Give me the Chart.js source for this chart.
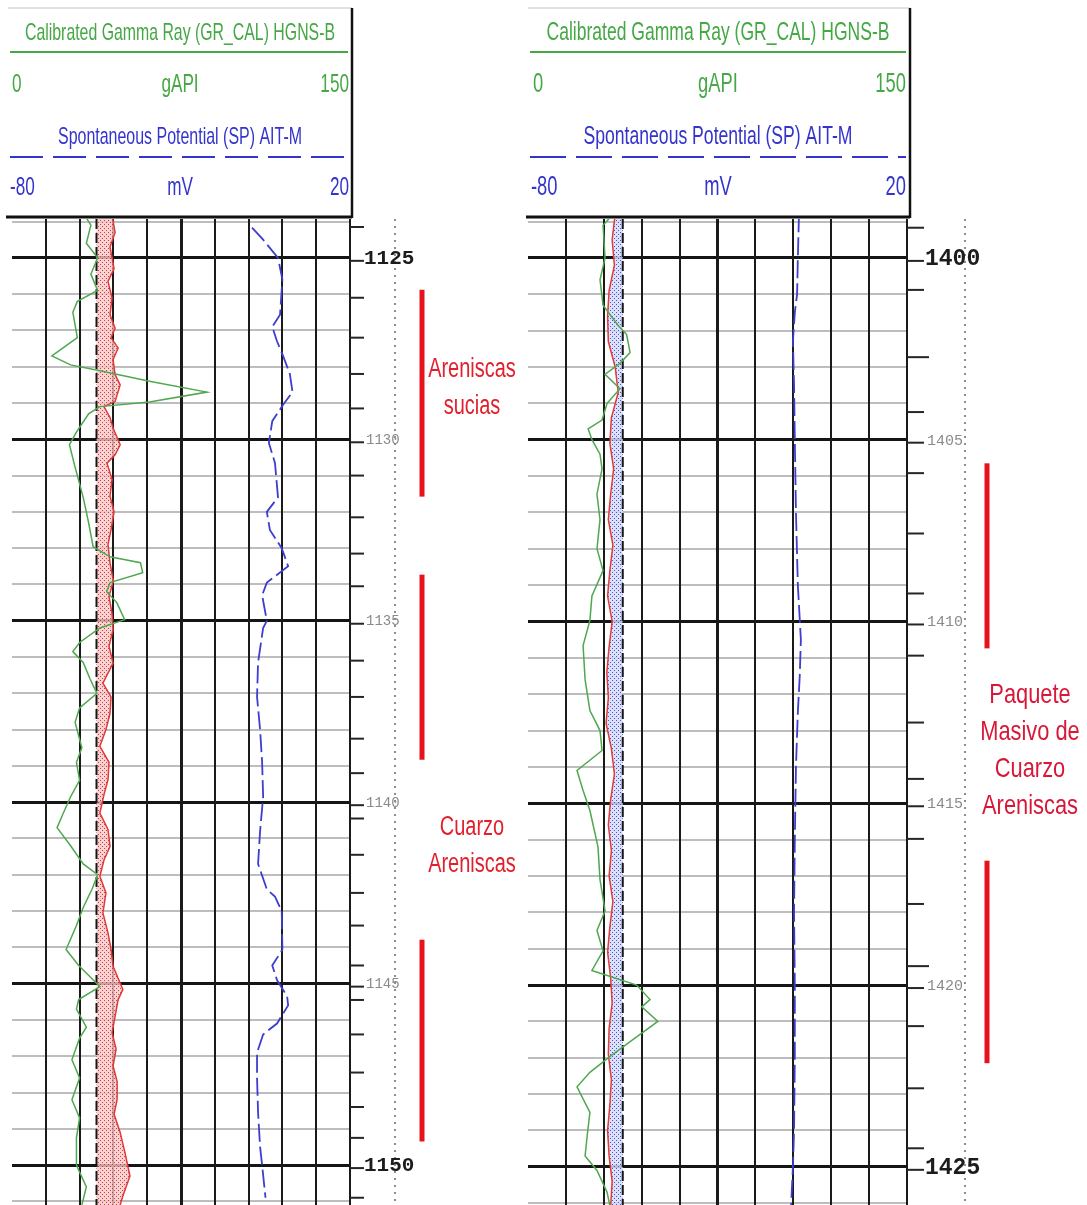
<!DOCTYPE html>
<html>
<head>
<meta charset="utf-8">
<script src="https://cdn.jsdelivr.net/npm/chart.js@4.4.0/dist/chart.umd.min.js"></script>
<style>
  html, body { margin: 0; padding: 0; background: #fff; }
  #wrap { position: relative; width: 1087px; height: 1205px; overflow: hidden; background: #fff; }
  canvas { position: absolute; top: 0; }
</style>
</head>
<body>
<div id="wrap">
  <canvas id="logLeft" width="520" height="1205" style="left:0"></canvas>
  <canvas id="logRight" width="567" height="1205" style="left:520px"></canvas>
</div>
<script>
// ---------- data ----------
const grTitle = 'Calibrated Gamma Ray (GR_CAL) HGNS-B';
const spTitle = 'Spontaneous Potential (SP) AIT-M';
const grScaleLabels = ['0', 'gAPI', '150'];
const spScaleLabels = ['-80', 'mV', '20'];
const grRange = [0, 150];
const spRange = [-80, 20];
const calRange = [6, 16];
const bitSize = 8.5;

// left log (1124 - 1151 m)
const leftDepthRange = [1123.93, 1151.1];
const leftDepthLabels = [1125, 1130, 1135, 1140, 1145, 1150];
const leftBigLabels = [1125, 1150];
const leftTickDepths = [1124.15, 1126.1, 1127.2, 1128.2, 1129.15, 1131.0, 1132.15, 1133.15, 1134.05, 1136.1,
  1137.1, 1138.25, 1139.2, 1140.45, 1141.45, 1142.5, 1143.4, 1144.5, 1145.45, 1146.4, 1147.45, 1148.4, 1149.25, 1150.9];

const leftGrDepth = [1123.8, 1124.1, 1124.6, 1125.0, 1125.45, 1125.9, 1126.2, 1126.5, 1127.2, 1127.7,
  1127.95, 1128.1, 1128.4, 1128.7, 1128.97, 1129.1, 1129.3, 1129.8, 1130.15, 1130.65,
  1131.6, 1132.3, 1132.96, 1133.24, 1133.4, 1133.68, 1133.95, 1134.2, 1134.5, 1134.97,
  1135.2, 1135.6, 1135.85, 1136.15, 1136.6, 1137.0, 1137.4, 1137.8, 1138.5, 1138.9,
  1139.4, 1139.85, 1140.3, 1140.7, 1141.2, 1141.7, 1142.0, 1142.4, 1142.9, 1143.4,
  1144.06, 1144.5, 1145.08, 1145.44, 1145.7, 1146.2, 1146.5, 1147.1, 1147.6, 1148.2,
  1148.7, 1149.25, 1150.0, 1150.6, 1151.1];
const leftGr = [32, 35, 33, 38, 35, 38, 29, 27, 29, 17.7,
  26, 38, 61, 86.5, 61, 39, 34, 28.6, 25.5, 27.5,
  31.6, 34, 36, 43.5, 57, 58, 43.5, 42, 46.5, 50,
  39, 30, 27, 31.6, 34.6, 37.7, 30, 28, 31, 28.6,
  30, 26, 22.8, 20, 26, 31.6, 38, 35.5, 31.6, 28.6,
  24, 29.6, 39, 29.6, 28.6, 33, 30, 26.6, 30, 26.6,
  30, 28.6, 28.6, 33, 31];

const leftSpDepth = [1124.17, 1124.5, 1125.0, 1125.6, 1126.57, 1126.9, 1127.3, 1127.7, 1128.2, 1128.7,
  1129.05, 1129.5, 1130.1, 1130.65, 1131.6, 1132.0, 1132.5, 1133.0, 1133.5, 1133.95,
  1134.3, 1135.0, 1135.2, 1136.15, 1137.1, 1138.0, 1138.9, 1139.85, 1140.8, 1141.7,
  1142.4, 1142.6, 1143.0, 1144.06, 1144.5, 1144.9, 1145.35, 1145.6, 1146.1, 1146.4,
  1146.9, 1147.6, 1148.55, 1149.5, 1150.0, 1150.9];
const leftSp = [-9, -5.7, -1.3, 0, -0.7, -3, -1.6, 0.2, 2.2, 3,
  0.2, -3, -4, -2.2, -1.3, -4.6, -3.7, -0.2, 1.7, -4.6,
  -6, -4.6, -5.7, -7.2, -7.5, -6.6, -6, -5.7, -6.6, -7.2,
  -4.6, -2.2, -0.2, 0, -3, -1.6, 1.4, 1.7, -1.6, -5.7,
  -7.5, -7.5, -7.2, -6.6, -6, -5];

const leftCalDepth = [1123.82, 1124.3, 1124.7, 1125.0, 1125.3, 1125.65, 1126.1, 1126.57, 1126.94, 1127.2,
  1127.49, 1127.8, 1128.22, 1128.5, 1128.96, 1129.1, 1129.4, 1129.69, 1130.15, 1130.43,
  1130.66, 1131.1, 1131.57, 1132.0, 1132.49, 1132.9, 1133.41, 1133.9, 1134.33, 1134.8,
  1135.25, 1135.7, 1136.17, 1136.72, 1137.1, 1137.55, 1138.0, 1138.46, 1138.9, 1139.38,
  1139.8, 1140.3, 1140.75, 1141.22, 1141.6, 1142.04, 1142.5, 1143.05, 1143.6, 1144.05,
  1144.52, 1145.16, 1145.44, 1145.9, 1146.35, 1146.8, 1147.27, 1147.7, 1148.19, 1148.6,
  1149.1, 1149.65, 1150.3, 1150.85, 1151.1];
const leftCal = [8.96, 9.05, 8.90, 8.96, 9.02, 8.84, 8.96, 8.90, 9.05, 8.93,
  9.14, 8.99, 9.05, 9.20, 9.05, 8.72, 8.90, 8.99, 9.20, 9.05,
  8.81, 8.96, 8.90, 9.02, 8.93, 8.84, 8.90, 9.00, 8.87, 8.96,
  8.99, 8.87, 8.99, 8.69, 8.93, 8.90, 8.78, 8.60, 8.87, 8.84,
  8.72, 8.60, 8.84, 8.90, 8.72, 8.60, 8.78, 8.69, 8.84, 8.93,
  8.99, 9.28, 9.14, 9.05, 8.96, 9.08, 8.99, 9.11, 9.11, 9.02,
  9.20, 9.34, 9.49, 9.28, 9.20];

const leftZones = [[1125.88, 1131.58], [1133.73, 1138.83], [1143.79, 1149.35]];
const leftNotes = [
  { depth: 1128.6, lines: ['Areniscas', 'sucias'] },
  { depth: 1141.2, lines: ['Cuarzo', 'Areniscas'] }
];

// right log (1399 - 1426 m)
const rightDepthRange = [1398.93, 1426.05];
const rightDepthLabels = [1400, 1405, 1410, 1415, 1420, 1425];
const rightBigLabels = [1400, 1425];
const rightTickDepths = [1399.17, 1400.88, 1402.73, 1404.24, 1405.92, 1407.58, 1409.23, 1410.94,
  1412.78, 1414.33, 1415.98, 1417.77, 1419.48, 1421.13, 1422.84, 1424.49];

const rightGrDepth = [1398.8, 1399.1, 1400.0, 1400.6, 1401.3, 1401.85, 1402.1, 1402.6, 1402.9, 1403.2,
  1403.6, 1404.0, 1404.46, 1404.7, 1405.0, 1405.4, 1405.8, 1406.5, 1407.2, 1408.0,
  1408.6, 1409.3, 1409.97, 1410.66, 1411.6, 1412.45, 1413.0, 1413.55, 1414.1, 1414.65,
  1415.2, 1416.2, 1417.1, 1417.96, 1418.5, 1419.06, 1419.6, 1420.0, 1420.4, 1420.6,
  1421.0, 1421.5, 1421.96, 1422.4, 1422.8, 1423.5, 1424.16, 1424.7, 1425.1, 1425.7, 1426.1];
const rightGr = [33.7, 29.7, 30.5, 28.5, 29.7, 35.6, 39, 40.4, 36.4, 30.5,
  36.4, 31.3, 29.3, 23.8, 25.3, 28.5, 29.3, 27.3, 28.5, 27.3,
  29.7, 25.3, 24.5, 21.8, 22.6, 24.5, 28.5, 29.3, 19.4, 21.8,
  24.5, 27.7, 28.5, 30.5, 27.3, 29.7, 25.3, 43, 48.3, 45,
  51.4, 41.5, 32.5, 24.5, 19.4, 24.5, 23.4, 22.6, 27.3, 31.3, 32.5];

const rightSpDepth = [1398.8, 1400.0, 1401.0, 1401.5, 1402.3, 1403.5, 1405.0, 1407.0, 1409.0, 1410.5,
  1411.5, 1412.5, 1414.0, 1416.0, 1418.0, 1420.0, 1422.0, 1424.0, 1425.0, 1426.1];
const rightSp = [-8.5, -8.8, -9.0, -9.6, -10.1, -9.8, -9.6, -9.3, -8.8, -8.0,
  -8.3, -8.8, -9.3, -9.6, -9.8, -9.6, -9.6, -9.8, -10.1, -10.6];

const rightCalDepth = [1398.8, 1399.5, 1400.2, 1400.9, 1401.6, 1402.3, 1403.0, 1403.7, 1404.4, 1405.1,
  1405.8, 1406.5, 1407.2, 1407.9, 1408.6, 1409.3, 1410.0, 1410.7, 1411.4, 1412.1,
  1412.8, 1413.5, 1414.2, 1414.9, 1415.6, 1416.3, 1417.0, 1417.7, 1418.4, 1419.1,
  1419.8, 1420.5, 1421.2, 1421.9, 1422.6, 1423.3, 1424.0, 1424.7, 1425.4, 1426.1];
const rightCal = [8.30, 8.22, 8.28, 8.14, 8.10, 8.12, 8.30, 8.38, 8.20, 8.16,
  8.26, 8.18, 8.12, 8.24, 8.16, 8.10, 8.22, 8.14, 8.08, 8.12,
  8.06, 8.20, 8.28, 8.18, 8.12, 8.20, 8.14, 8.24, 8.16, 8.10,
  8.18, 8.22, 8.14, 8.12, 8.20, 8.16, 8.10, 8.14, 8.22, 8.18];

const rightZones = [[1405.65, 1410.74], [1416.58, 1422.15]];
const rightNotes = [
  { depth: 1413.56, lines: ['Paquete', 'Masivo de', 'Cuarzo', 'Areniscas'] }
];

// ---------- styling ----------
const GREEN_TXT = '#45a845';
const BLUE_TXT = '#3434cc';
const NOTE_RED = '#e21f2c';
const SANS = '"Liberation Sans", Arial, sans-serif';
const MONO = '"Liberation Mono", "Courier New", monospace';

function dotPattern(bg, dot) {
  const c = document.createElement('canvas');
  c.width = 4; c.height = 4;
  const g = c.getContext('2d');
  g.fillStyle = bg; g.fillRect(0, 0, 4, 4);
  g.fillStyle = dot;
  g.fillRect(0, 0, 1, 1); g.fillRect(2, 2, 1, 1);
  return g.createPattern(c, 'repeat');
}

function toPoints(depths, vals) {
  return depths.map((d, i) => ({ x: vals[i], y: d }));
}

function seg(c, x1, y1, x2, y2, color, w, dash) {
  c.save();
  c.strokeStyle = color; c.lineWidth = w;
  c.setLineDash(dash || []);
  c.beginPath(); c.moveTo(x1, y1); c.lineTo(x2, y2); c.stroke();
  c.restore();
}

// draw text squeezed horizontally (the source image is condensed)
function squish(c, text, x, y, align, font, color, sx) {
  c.save();
  c.font = font; c.fillStyle = color;
  c.textAlign = align; c.textBaseline = 'middle';
  c.translate(x, y); c.scale(sx, 1);
  c.fillText(text, 0, 0);
  c.restore();
}

function fitText(c, text, cx, y, width, font, color) {
  c.save(); c.font = font;
  const w = c.measureText(text).width;
  c.restore();
  squish(c, text, cx, y, 'center', font, color, width / w);
}

function decor(d, lay) {
  return {
    id: 'logDecor',
    afterDraw(chart) {
      const c = chart.ctx;
      const ys = chart.scales.y;
      const area = chart.chartArea;
      const h = lay.header;
      const rows = [33, 52, 85, 137, 157, 188];
      const tf = h.font + 'px ' + SANS;
      const rf = (h.font + 2) + 'px ' + SANS;

      // header box
      c.fillStyle = '#fff';
      c.fillRect(h.left, h.top, h.right - h.left, h.bottom - h.top);
      seg(c, h.left, h.top, h.right, h.top, '#c4c4c4', 1);
      seg(c, h.right, h.top, h.right, h.bottom + 1, '#111', 2.5);
      seg(c, h.left - 2, h.bottom, h.right, h.bottom, '#111', 3);

      fitText(c, grTitle, h.cx, rows[0], h.grTitleW, tf, GREEN_TXT);
      seg(c, h.lineL, rows[1], h.lineR, rows[1], GREEN_TXT, 2);
      squish(c, grScaleLabels[0], h.textL, rows[2], 'left', rf, GREEN_TXT, h.sq);
      squish(c, grScaleLabels[1], h.cx, rows[2], 'center', rf, GREEN_TXT, h.sq);
      squish(c, grScaleLabels[2], h.textR, rows[2], 'right', rf, GREEN_TXT, h.sq);

      fitText(c, spTitle, h.cx, rows[3], h.spTitleW, tf, BLUE_TXT);
      seg(c, h.lineL, rows[4], h.lineR, rows[4], BLUE_TXT, 2, [h.dash, 10]);
      squish(c, spScaleLabels[0], h.textL - 2, rows[5], 'left', rf, BLUE_TXT, h.sq);
      squish(c, spScaleLabels[1], h.cx, rows[5], 'center', rf, BLUE_TXT, h.sq);
      squish(c, spScaleLabels[2], h.textR, rows[5], 'right', rf, BLUE_TXT, h.sq);

      // depth track
      const t = lay.track;
      seg(c, t.dotX, area.top, t.dotX, area.bottom, '#6a6a6a', 1.5, [2, 5]);
      d.ticks.forEach(v => {
        const y = ys.getPixelForValue(v);
        const len = (d.longTicks || []).includes(v) ? t.tickLen + 5 : t.tickLen;
        seg(c, area.right, y, area.right + len, y, '#262626', 2);
      });
      d.labels.forEach(v => {
        const y = ys.getPixelForValue(v);
        const big = d.bigLabels.includes(v);
        seg(c, area.right, y + 3, area.right + t.tickLen, y + 3, '#262626', 2);
        c.save();
        c.textBaseline = 'middle'; c.textAlign = 'left';
        c.font = big ? t.bigFont : t.smallFont;
        c.fillStyle = big ? '#1c1c1c' : '#8a8a8a';
        c.fillText(String(v), big ? t.bigX : t.labelX, y + 1);
        c.restore();
      });

      // interpretation bars and notes
      const n = lay.notes;
      c.fillStyle = '#e8121c';
      d.zones.forEach(([a, b]) => {
        const y1 = ys.getPixelForValue(a), y2 = ys.getPixelForValue(b);
        c.fillRect(n.barX - 2.5, y1, 5, y2 - y1);
      });
      d.notes.forEach(note => {
        const yc = ys.getPixelForValue(note.depth);
        const y0 = yc - (note.lines.length - 1) * n.lineH / 2;
        note.lines.forEach((txt, i) => {
          squish(c, txt, n.x, y0 + i * n.lineH, 'center', n.font + 'px ' + SANS, n.color, n.sq);
        });
      });
    }
  };
}

function buildLog(canvasId, d, lay) {
  const gridDepths = [];
  for (let v = Math.ceil(d.range[0]); v <= Math.floor(d.range[1]); v++) gridDepths.push(v);
  const grSteps = [];
  for (let v = grRange[0]; v <= grRange[1]; v += 15) grSteps.push(v);

  return new Chart(document.getElementById(canvasId), {
    type: 'line',
    data: {
      datasets: [
        {
          label: 'GR', xAxisID: 'gr', data: toPoints(d.grDepth, d.gr),
          borderColor: '#4fa84f', borderWidth: 1.5, pointRadius: 0, fill: false
        },
        {
          label: 'CALI', xAxisID: 'cal', data: toPoints(d.calDepth, d.cal),
          borderColor: '#e03a3a', borderWidth: 1.5, pointRadius: 0,
          fill: { value: bitSize }, backgroundColor: d.fillPattern
        },
        {
          label: 'BS', xAxisID: 'cal',
          data: [{ x: bitSize, y: d.range[0] }, { x: bitSize, y: d.range[1] }],
          borderColor: '#151515', borderWidth: 2, borderDash: [10, 4], pointRadius: 0, fill: false
        },
        {
          label: 'SP', xAxisID: 'sp', data: toPoints(d.spDepth, d.sp),
          borderColor: '#3d3dcf', borderWidth: 1.8, borderDash: [18, 5], pointRadius: 0, fill: false
        }
      ]
    },
    options: {
      indexAxis: 'y',
      responsive: false,
      animation: false,
      events: [],
      layout: { padding: lay.pad },
      plugins: {
        legend: { display: false },
        tooltip: { enabled: false },
        filler: { drawTime: 'beforeDatasetsDraw' }
      },
      scales: {
        y: {
          type: 'linear', reverse: true, min: d.range[0], max: d.range[1],
          afterBuildTicks: s => { s.ticks = gridDepths.map(v => ({ value: v })); },
          ticks: { display: false },
          border: { display: false },
          grid: {
            drawTicks: false,
            color: ctx => ctx.tick.value % 5 === 0 ? '#151515' : '#bdbdbd',
            lineWidth: ctx => ctx.tick.value % 5 === 0 ? 3 : 2
          }
        },
        gr: {
          type: 'linear', axis: 'x', position: 'top', min: grRange[0], max: grRange[1],
          afterBuildTicks: s => { s.ticks = grSteps.map(v => ({ value: v })); },
          ticks: { display: false },
          border: { display: false },
          grid: {
            drawTicks: false,
            color: ctx => ctx.tick.value === 0 ? 'rgba(0,0,0,0)' : '#1a1a1a',
            lineWidth: ctx => ctx.tick.value === 75 ? 3 : 2
          }
        },
        sp: { type: 'linear', axis: 'x', position: 'top', min: spRange[0], max: spRange[1], display: false },
        cal: { type: 'linear', axis: 'x', position: 'top', min: calRange[0], max: calRange[1], display: false }
      }
    },
    plugins: [decor(d, lay)]
  });
}

buildLog('logLeft', {
  range: leftDepthRange, labels: leftDepthLabels, bigLabels: leftBigLabels, ticks: leftTickDepths,
  grDepth: leftGrDepth, gr: leftGr, spDepth: leftSpDepth, sp: leftSp,
  calDepth: leftCalDepth, cal: leftCal, zones: leftZones, notes: leftNotes,
  fillPattern: dotPattern('rgba(248,200,200,0.8)', '#d23c3c')
}, {
  pad: { left: 12, right: 170, top: 219, bottom: 0 },
  header: { left: 8, right: 352, top: 8, bottom: 217, cx: 180, textL: 12, textR: 349,
            lineL: 10, lineR: 348, grTitleW: 310, spTitleW: 244, font: 24, sq: 0.66, dash: 33 },
  track: { tickLen: 14, labelX: 366, bigX: 364, dotX: 395,
           bigFont: 'bold 21px ' + MONO, smallFont: '14px ' + MONO },
  notes: { barX: 422, x: 472, font: 27, sq: 0.74, lineH: 37, color: NOTE_RED }
});

buildLog('logRight', {
  range: rightDepthRange, labels: rightDepthLabels, bigLabels: rightBigLabels, ticks: rightTickDepths,
  longTicks: [1402.73, 1419.48],
  grDepth: rightGrDepth, gr: rightGr, spDepth: rightSpDepth, sp: rightSp,
  calDepth: rightCalDepth, cal: rightCal, zones: rightZones, notes: rightNotes,
  fillPattern: dotPattern('rgba(214,218,248,0.85)', '#4a56d0')
}, {
  pad: { left: 8, right: 180, top: 219, bottom: 0 },
  header: { left: 8, right: 390, top: 8, bottom: 217, cx: 198, textL: 13, textR: 386,
            lineL: 10, lineR: 386, grTitleW: 343, spTitleW: 269, font: 25, sq: 0.68, dash: 36 },
  track: { tickLen: 17, labelX: 407, bigX: 405, dotX: 445,
           bigFont: 'bold 23px ' + MONO, smallFont: '15px ' + MONO },
  notes: { barX: 467, x: 510, font: 28, sq: 0.78, lineH: 37, color: '#d91838' }
});
</script>
</body>
</html>
